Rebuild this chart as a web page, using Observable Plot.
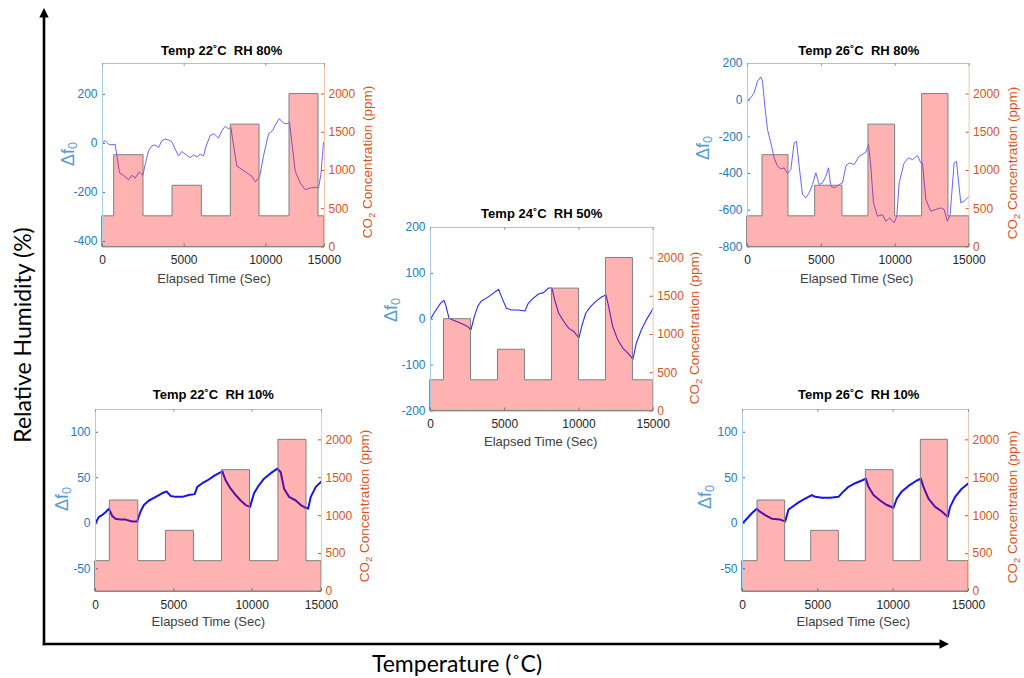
<!DOCTYPE html>
<html>
<head>
<meta charset="utf-8">
<script src="https://cdn.jsdelivr.net/npm/d3@7"></script>
<script src="https://cdn.jsdelivr.net/npm/@observablehq/plot@0.6"></script>
<style>
  body { margin: 0; background: #fff; }
  #root { position: relative; width: 1024px; height: 678px; overflow: hidden; background: #fff;
          font-family: "Liberation Sans", Arial, sans-serif; }
  .abs { position: absolute; }
  .title { font-weight: bold; font-size: 13px; color: #000; white-space: pre; transform: translate(-50%, -50%); }
  .xlab { font-size: 13px; color: #404040; white-space: nowrap; transform: translate(-50%, -50%); }
  .ylab { font-size: 18px; color: #5b9bd5; white-space: nowrap; transform: translate(-50%, -50%) rotate(-90deg); line-height: 1; }
  .y2lab { font-size: 13.5px; color: #D95319; white-space: nowrap; transform: translate(-50%, -50%) rotate(-90deg); line-height: 1; }
  .big { font-family: Lato, "Noto Sans", sans-serif; font-size: 23px; color: #000; white-space: nowrap; }
  sub { font-size: 70%; vertical-align: -0.25em; line-height: 0; }
</style>
</head>
<body>
<div id="root"></div>
<script>
// ---------------- DATA ----------------
const panelTitles = ["Temp 22˚C  RH 80%", "Temp 24˚C  RH 50%", "Temp 26˚C  RH 80%", "Temp 22˚C  RH 10%", "Temp 26˚C  RH 10%"];
const xAxisTitle = "Elapsed Time (Sec)";
const co2Base = 400;
const co2Levels = [1200, 800, 1600, 2000];
const co2Ticks = [0, 500, 1000, 1500, 2000];
const co2Domain = [0, 2400];
const xTickLabels = ["0", "5000", "10000", "15000"];

// pulse [start, end] times (s) per panel
const p1Pulses = [[714, 2510], [4286, 6082], [7857, 9612], [11449, 13224]];
const p2Pulses = [[909, 2727], [4545, 6363], [8182, 10000], [11818, 13636]];
const p3Pulses = [[1015, 2774], [4579, 6429], [8188, 9992], [11820, 13602]];
const p4Pulses = [[916, 2730], [4495, 6285], [8076, 9866], [11682, 13472]];
const p5Pulses = [[996, 2832], [4558, 6394], [8186, 10022], [11836, 13628]];

// axis end (value at right edge, labelled 15000)
const xEnds = [13590, 15000, 15000, 14430, 15000];

// delta f0 domains and ticks
const p1DfDomain = [-422, 326], p1DfTicks = [-400, -200, 0, 200];
const p2DfDomain = [-200, 200], p2DfTicks = [-200, -100, 0, 100, 200];
const p3DfDomain = [-800, 200], p3DfTicks = [-800, -600, -400, -200, 0, 200];
const p4DfDomain = [-75, 125],  p4DfTicks = [-50, 0, 50, 100];
const p5DfDomain = [-75, 125],  p5DfTicks = [-50, 0, 50, 100];

// delta f0 traces
const p1Time = [0,163,367,571,776,878,1041,1286,1592,1796,2000,2245,2470,2612,2817,3021,3225,3429,3633,3837,4041,4245,4449,4653,4858,5062,5368,5572,5776,5980,6184,6347,6592,6837,7102,7307,7511,7715,7857,7980,8225,8531,8837,9143,9347,9612,9858,10164,10409,10613,10817,11082,11286,11449,11592,11797,12103,12409,12715,13021,13224,13368,13531,13590];
const p1Df   = [4,11,-3,-6,-3,-51,-120,-130,-148,-130,-141,-116,-130,-86,-30,-10,-6,-17,11,18,14,7,-23,-51,-33,-44,-58,-47,-55,-44,-51,-10,32,39,22,52,70,59,66,11,-92,-106,-120,-134,-157,-138,-51,39,52,80,101,83,80,87,4,-113,-161,-189,-182,-179,-182,-127,4,0];

const p2Time = [0,227,455,682,909,1023,1250,1591,1932,2273,2500,2727,2955,3182,3409,3750,4091,4364,4591,4818,5114,5455,5909,6364,6591,6932,7273,7614,7955,8182,8364,8636,8977,9318,9659,10000,10182,10455,10795,11136,11545,11818,12000,12273,12614,12955,13295,13636,13864,14205,14545,14886,15000];
const p2Df   = [0,13,24,35,41,31,2,-3,-7,-12,-16,-23,6,28,39,46,53,60,65,46,24,20,20,18,35,46,55,58,68,68,42,13,-5,-20,-27,-41,-16,13,28,39,49,53,28,-16,-45,-63,-74,-87,-52,-23,-1,17,25];

const p3Time = [0,226,451,677,902,1015,1173,1354,1579,1805,2030,2256,2482,2707,2933,3158,3316,3497,3722,3948,4173,4399,4625,4850,5076,5301,5482,5640,5866,6204,6430,6655,6881,7219,7558,7784,8009,8189,8347,8527,8798,9136,9362,9633,9926,10107,10265,10603,10874,11167,11506,11731,11844,12070,12408,12746,13085,13310,13536,13716,13987,14145,14438,14664,15000];
const p3Df   = [0,13,40,104,127,104,-33,-160,-233,-315,-360,-375,-369,-400,-378,-233,-224,-360,-514,-533,-505,-460,-396,-460,-451,-415,-369,-469,-478,-460,-451,-360,-342,-351,-305,-296,-284,-242,-360,-560,-633,-624,-660,-642,-669,-633,-451,-342,-315,-324,-302,-342,-342,-542,-605,-596,-587,-596,-660,-624,-342,-333,-560,-551,-524];

const p4Time = [0,213,426,639,852,1066,1279,1598,1918,2344,2664,2877,3090,3410,3729,4049,4262,4539,4795,5114,5540,5966,6329,6500,6819,7139,7565,7885,8098,8311,8631,8950,9270,9590,9867,10122,10442,10762,11188,11614,11827,12040,12360,12786,13106,13425,13575,13745,14065,14427];
const p4Df   = [0,7,9,12,16,8,5,4,4,2,2,13,20,25,28,31,33,35,30,29,29,31,32,40,44,47,52,55,57,47,38,31,25,20,18,33,42,49,55,60,56,38,29,25,20,17,16,29,40,46];

const p5Time = [0,288,619,951,1128,1504,1947,2500,2832,3053,3385,3716,4159,4602,4823,5265,5818,6371,6703,7034,7477,7919,8185,8362,8693,9136,9578,10020,10241,10573,11016,11569,11834,12011,12343,12786,13228,13626,13781,14112,14554,15000];
const p5Df   = [0,5,11,16,13,9,5,4,2,15,19,23,27,31,29,28,28,29,35,40,44,47,49,40,31,25,20,17,27,35,41,47,49,40,27,18,13,7,18,29,38,44];

// ---------------- LAYOUT / STYLE ----------------
const layout = [
  {L: 102.3, R: 324.3, T: 63.3,  B: 246.7, tx: 221.7, ty: 50,    lx: 68.3,  ly: 154,   rx: 368,    ry: 162,   xx: 214,   xy: 278,   stroke: "#5555ff", sw: 0.9},
  {L: 430,   R: 652.7, T: 227.3, B: 410.7, tx: 541.7, ty: 213.3, lx: 390.7, ly: 310,   rx: 695,    ry: 328,   xx: 540.7, xy: 440.5, stroke: "#2a2aff", sw: 1.1},
  {L: 746.7, R: 968.3, T: 63.3,  B: 246.7, tx: 858.8, ty: 50,    lx: 703.3, ly: 148,   rx: 1012.5, ry: 162.5, xx: 856.7, xy: 278,   stroke: "#5555ff", sw: 0.9},
  {L: 95,    R: 321,   T: 409,   B: 591,   tx: 213.3, ty: 394,   lx: 61.7,  ly: 499,   rx: 365,    ry: 505.8, xx: 208.3, xy: 620.5, stroke: "#1414f0", sw: 2},
  {L: 742.3, R: 968.3, T: 409,   B: 591,   tx: 858.7, ty: 394,   lx: 705,   ly: 496.7, rx: 1012.5, ry: 506.5, xx: 853.3, xy: 620.5, stroke: "#1414f0", sw: 2}
];
const pulses = [p1Pulses, p2Pulses, p3Pulses, p4Pulses, p5Pulses];
const times = [p1Time, p2Time, p3Time, p4Time, p5Time];
const dfs = [p1Df, p2Df, p3Df, p4Df, p5Df];
const dfDomains = [p1DfDomain, p2DfDomain, p3DfDomain, p4DfDomain, p5DfDomain];
const dfTicks = [p1DfTicks, p2DfTicks, p3DfTicks, p4DfTicks, p5DfTicks];

const leftColor = "#1a7cc4";
const rightColor = "#D95319";
const M = {l: 60, r: 60, t: 20, b: 30};
const root = document.getElementById("root");

// outer axes (decorative arrows)
const ns = "http://www.w3.org/2000/svg";
const deco = document.createElementNS(ns, "svg");
deco.setAttribute("width", 1024); deco.setAttribute("height", 678);
deco.setAttribute("class", "abs"); deco.style.left = "0px"; deco.style.top = "0px";
deco.innerHTML = `
  <line x1="44" y1="645.3" x2="44" y2="15" stroke="#000" stroke-width="2.6"/>
  <polygon points="44,8 39.3,17.5 48.7,17.5" fill="#000"/>
  <line x1="42.7" y1="644" x2="941" y2="644" stroke="#000" stroke-width="2.6"/>
  <polygon points="949,644 939.5,639.3 939.5,648.7" fill="#000"/>`;
root.appendChild(deco);

function addDiv(cls, html, x, y) {
  const d = document.createElement("div");
  d.className = "abs " + cls;
  d.innerHTML = html;
  d.style.left = x + "px"; d.style.top = y + "px";
  root.appendChild(d);
  return d;
}

addDiv("big", "Relative Humidity (%)", 22, 335).style.transform = "translate(-50%,-50%) rotate(-90deg)";
addDiv("big", "Temperature (˚C)", 457, 663).style.transform = "translate(-50%,-50%)";

layout.forEach((g, i) => {
  const W = g.R - g.L, H = g.B - g.T;
  const xMax = xEnds[i];
  const xTicks = [0, 5000, 10000, xMax];
  const xLab = new Map(xTicks.map((t, k) => [t, xTickLabels[k]]));
  const line = times[i].map((t, k) => ({t, v: dfs[i][k]}));
  const steps = [{t: 0, c: co2Base}];
  pulses[i].forEach(([a, b], k) => { steps.push({t: a, c: co2Levels[k]}); steps.push({t: b, c: co2Base}); });
  steps.push({t: xMax, c: co2Base});

  const common = {
    width: W + M.l + M.r, height: H + M.t + M.b,
    marginLeft: M.l, marginRight: M.r, marginTop: M.t, marginBottom: M.b,
    style: {background: "transparent", fontFamily: '"Liberation Sans", Arial, sans-serif', fontSize: "12px", overflow: "visible"}
  };

  const base = Plot.plot({
    ...common,
    x: {domain: [0, xMax], axis: null},
    y: {domain: dfDomains[i], axis: null},
    marks: [
      Plot.lineY(line, {x: "t", y: "v", stroke: g.stroke, strokeWidth: g.sw, clip: true}),
      Plot.axisY(dfTicks[i], {anchor: "left", tickSize: 0, tickPadding: 5, tickFormat: d => String(d), color: leftColor, label: null, fontSize: 12}),
      Plot.tickY(dfTicks[i], {y: d => d, stroke: leftColor, insetRight: W - 3})
    ]
  });

  const over = Plot.plot({
    ...common,
    x: {domain: [0, xMax]},
    y: {domain: co2Domain},
    marks: [
      Plot.areaY(steps, {x: "t", y: "c", curve: "step-after", fill: "#ff0000", fillOpacity: 0.3, stroke: "#7f7f7f", strokeWidth: 1}),
      Plot.ruleY([co2Domain[0]], {stroke: "#8a8a8a"}),
      Plot.ruleY([co2Domain[1]], {stroke: "#bdbdbd"}),
      Plot.ruleX([0], {stroke: "#a9cdea"}),
      Plot.ruleX([xMax], {stroke: "#f4c6ad"}),
      Plot.axisY(co2Ticks, {anchor: "right", tickSize: 0, tickPadding: 4, tickFormat: d => String(d), color: rightColor, label: null, fontSize: 12}),
      Plot.tickY(co2Ticks, {y: d => d, stroke: rightColor, insetLeft: W - 3}),
      Plot.axisX(xTicks, {anchor: "bottom", tickSize: 0, tickPadding: 9, tickFormat: d => xLab.get(d), color: "#262626", label: null, fontSize: 12}),
      Plot.tickX(xTicks, {x: d => d, stroke: "#777", insetTop: H - 3}),
      Plot.tickX(xTicks, {x: d => d, stroke: "#999", insetBottom: H - 3})
    ]
  });

  [base, over].forEach(svg => {
    svg.classList.add("abs");
    svg.style.left = (g.L - M.l) + "px";
    svg.style.top = (g.T - M.t) + "px";
    root.appendChild(svg);
  });

  addDiv("title", panelTitles[i], g.tx, g.ty);
  addDiv("xlab", xAxisTitle, g.xx, g.xy);
  addDiv("ylab", "Δf<sub>0</sub>", g.lx, g.ly);
  addDiv("y2lab", "CO<sub>2</sub> Concentration (ppm)", g.rx, g.ry);
});
</script>
</body>
</html>
